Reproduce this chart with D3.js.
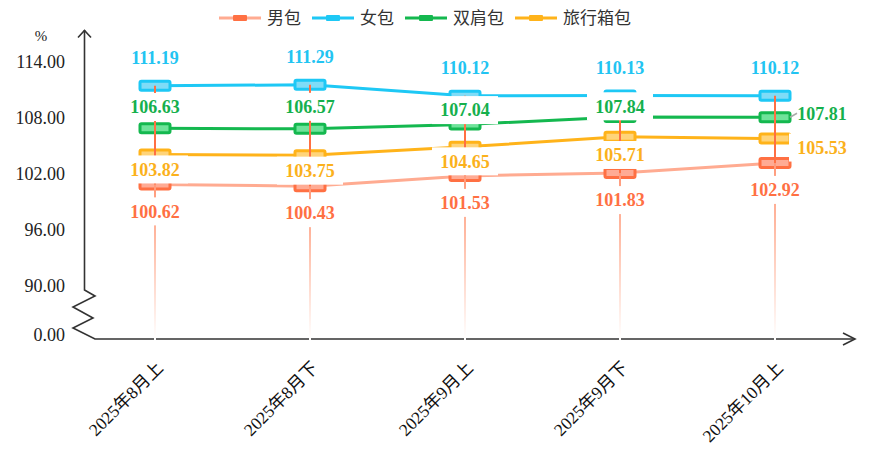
<!DOCTYPE html>
<html>
<head>
<meta charset="utf-8">
<script src="https://cdn.jsdelivr.net/npm/d3@7/dist/d3.min.js"></script>
<style>
  html, body { margin: 0; padding: 0; background: #fff; }
  svg { display: block; }
</style>
</head>
<body>
<svg id="chart" width="871" height="454"></svg>
<script>
// ---- data ----
const categories = ["2025年8月上", "2025年8月下", "2025年9月上", "2025年9月下", "2025年10月上"];
const seriesNames = ["男包", "女包", "双肩包", "旅行箱包"];
const maleValues = [100.62, 100.43, 101.53, 101.83, 102.92];
const femaleValues = [111.19, 111.29, 110.12, 110.13, 110.12];
const backpackValues = [106.63, 106.57, 107.04, 107.84, 107.81];
const luggageValues = [103.82, 103.75, 104.65, 105.71, 105.53];
const yTickValues = [90, 96, 102, 108, 114];
const breakTickLabel = "0.00";
const unitLabel = "%";

// ---- styles ----
const styles = [
  { line: "#ffab91", mark: "#ff7043", fill: "#ffab94", label: "#ff7043" },
  { line: "#1ec8f5", mark: "#1ec8f5", fill: "#7fdcf7", label: "#22c4f2" },
  { line: "#14b84f", mark: "#14b84f", fill: "#6fe39a", label: "#15b04d" },
  { line: "#ffb31a", mark: "#ffb31a", fill: "#ffd47a", label: "#fbb11c" }
];
const seriesValues = [maleValues, femaleValues, backpackValues, luggageValues];

const svg = d3.select("#chart");
const axisY0 = 339;          // x-axis baseline
const axisX0 = 84.5;         // y-axis line
const x = d3.scalePoint().domain(categories).range([155, 775]);
const y = d3.scaleLinear().domain([90, 114]).range([283.5, 59.5]);

const defs = svg.append("defs");

// ---- axes ----
const axisColor = "#333";
const ax = svg.append("g").attr("fill", "none").attr("stroke", axisColor).attr("stroke-width", 1.6);
// y axis with break zigzag
ax.append("path").attr("d", d3.line()([
  [axisX0, 30], [axisX0, 290], [95, 296], [73, 307], [93, 318], [73, 328], [95, 339], [855, 339]
]));
// y arrow
ax.append("path").attr("d", d3.line()([[axisX0 - 6.5, 37.5], [axisX0, 30.5], [axisX0 + 6.5, 37.5]]));
// x arrow
ax.append("path").attr("d", d3.line()([[843, 333], [855, 339], [843, 345]]));

// y tick labels
const tickFont = "'Liberation Serif','Times New Roman','DejaVu Serif',serif";
svg.append("g").selectAll("text").data(yTickValues).join("text")
  .attr("x", 65).attr("y", d => y(d) + 2)
  .attr("dy", "0.35em")
  .attr("text-anchor", "end")
  .attr("font-family", tickFont).attr("font-size", 18).attr("fill", "#222")
  .text(d => d3.format(".2f")(d));
svg.append("text").attr("x", 65).attr("y", 335).attr("dy", "0.35em")
  .attr("text-anchor", "end").attr("font-family", tickFont).attr("font-size", 18).attr("fill", "#222")
  .text(breakTickLabel);
svg.append("text").attr("x", 41).attr("y", 36).attr("dy", "0.35em")
  .attr("text-anchor", "middle").attr("font-family", tickFont).attr("font-size", 15).attr("fill", "#222")
  .text(unitLabel);

// x tick labels
svg.append("g").selectAll("text").data(categories).join("text")
  .attr("transform", d => `translate(${x(d) + 9},${369}) rotate(-45)`)
  .attr("text-anchor", "end")
  .attr("font-family", "'Liberation Serif','Times New Roman','Noto Sans CJK SC',serif")
  .attr("font-size", 17.5).attr("fill", "#111")
  .text(d => d);

// ---- series lines ----
const lineGen = d3.line().x((d, i) => x(categories[i])).y(d => y(d));
const linesG = svg.append("g");
seriesValues.forEach((vals, s) => {
  linesG.append("path").attr("d", lineGen(vals))
    .attr("fill", "none").attr("stroke", styles[s].line).attr("stroke-width", 3);
});

// ---- markers ----
const markW = 30, markH = 9;
const marksG = svg.append("g");
seriesValues.forEach((vals, s) => {
  marksG.selectAll(null).data(vals).join("rect")
    .attr("x", (d, i) => x(categories[i]) - markW / 2)
    .attr("y", d => y(d) - markH / 2)
    .attr("width", markW).attr("height", markH).attr("rx", 1.5)
    .attr("fill", styles[s].fill).attr("stroke", styles[s].mark).attr("stroke-width", 3);
});

// ---- high-low lines and drop lines ----
const hlG = svg.append("g");
categories.forEach((c, i) => {
  const vals = seriesValues.map(v => v[i]);
  const hi = d3.max(vals), lo = d3.min(vals);
  const gid = "drop" + i;
  const g = defs.append("linearGradient").attr("id", gid)
    .attr("gradientUnits", "userSpaceOnUse")
    .attr("x1", 0).attr("x2", 0).attr("y1", y(lo)).attr("y2", axisY0);
  g.append("stop").attr("offset", "0%").attr("stop-color", "#ff9a7a");
  g.append("stop").attr("offset", "35%").attr("stop-color", "#ffb9a2");
  g.append("stop").attr("offset", "100%").attr("stop-color", "#ffffff");
  hlG.append("line").attr("x1", x(c)).attr("x2", x(c)).attr("y1", y(lo)).attr("y2", axisY0 + 1)
    .attr("stroke", `url(#${gid})`).attr("stroke-width", 2);
  hlG.append("line").attr("x1", x(c)).attr("x2", x(c)).attr("y1", y(hi)).attr("y2", y(lo))
    .attr("stroke", "#ff7043").attr("stroke-width", 2);
});

// ---- data labels ----
const labelFont = "'Liberation Serif','Times New Roman','DejaVu Serif',serif";
const labels = [];
const last = categories.length - 1;
categories.forEach((c, i) => {
  const cx = x(c);
  const yM = y(maleValues[i]), yF = y(femaleValues[i]), yB = y(backpackValues[i]), yL = y(luggageValues[i]);
  labels.push({ v: femaleValues[i], s: 1, x: cx, y: yF - 28, anchor: "middle" });
  labels.push({ v: maleValues[i], s: 0, x: cx, y: yM + 27, anchor: "middle" });
  if (i === last) {
    labels.push({ v: backpackValues[i], s: 2, x: cx + 47, y: yB - 4, anchor: "middle", leader: [cx + 15, yB, cx + 22, yB - 4] });
    labels.push({ v: luggageValues[i], s: 3, x: cx + 47, y: yL + 9, anchor: "middle" });
  } else {
    labels.push({ v: backpackValues[i], s: 2, x: cx, y: (yF + yB) / 2, anchor: "middle" });
    labels.push({ v: luggageValues[i], s: 3, x: cx, y: (yL + yM) / 2, anchor: "middle" });
  }
});
const labG = svg.append("g");
labels.forEach(l => {
  if (l.leader) {
    labG.append("line").attr("x1", l.leader[0]).attr("y1", l.leader[1])
      .attr("x2", l.leader[2]).attr("y2", l.leader[3])
      .attr("stroke", "#aaa").attr("stroke-width", 1.5);
  } else {
    labG.append("rect").attr("x", l.x - 33).attr("y", l.y - 14).attr("width", 66).attr("height", 28)
      .attr("fill", "#fff");
  }
});
labels.forEach(l => {
  labG.append("text").attr("x", l.x).attr("y", l.y).attr("dy", "0.35em")
    .attr("text-anchor", l.anchor)
    .attr("font-family", labelFont).attr("font-weight", "bold").attr("font-size", 18)
    .attr("fill", styles[l.s].label)
    .text(d3.format(".2f")(l.v));
});

// ---- legend ----
const legG = svg.append("g");
let lx = 219;
const ly = 18;
seriesNames.forEach((n, s) => {
  const item = legG.append("g");
  item.append("line").attr("x1", lx).attr("x2", lx + 42).attr("y1", ly).attr("y2", ly)
    .attr("stroke", styles[s].line).attr("stroke-width", 3);
  item.append("rect").attr("x", lx + 14).attr("y", ly - 3).attr("width", 14).attr("height", 6)
    .attr("rx", 1).attr("fill", styles[s].mark);
  const t = item.append("text").attr("x", lx + 48).attr("y", ly).attr("dy", "0.36em")
    .attr("font-family", "'Noto Sans CJK SC','Noto Sans',sans-serif").attr("font-size", 17)
    .attr("fill", "#333").text(n);
  const w = t.node().getComputedTextLength();
  lx += 48 + w + 11;
});
</script>
</body>
</html>
